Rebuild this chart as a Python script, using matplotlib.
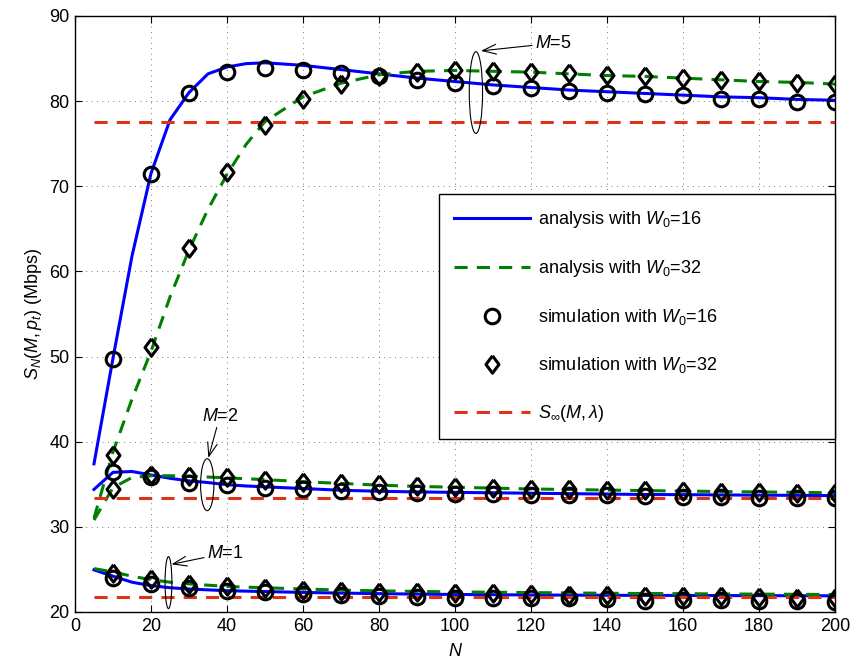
import matplotlib
matplotlib.use("Agg")
import matplotlib.pyplot as plt
from matplotlib.patches import Ellipse
from matplotlib.lines import Line2D

plt.rcParams['font.family'] = ['Liberation Sans', 'DejaVu Sans']
plt.rcParams['mathtext.fontset'] = 'custom'
plt.rcParams['mathtext.rm'] = 'Liberation Sans'
plt.rcParams['mathtext.it'] = 'Liberation Sans:italic'
plt.rcParams['mathtext.bf'] = 'Liberation Sans:bold'

FS = 13

# analysis curves (N step 5 up to 50, then step 10)
n_ana = [5, 10, 15, 20, 25, 30, 35, 40, 45, 50, 60, 70, 80, 90, 100,
         110, 120, 130, 140, 150, 160, 170, 180, 190, 200]
ana16_m5 = [37.4, 49.8, 61.8, 71.5, 77.8, 81.0, 83.2, 84.0, 84.4, 84.5, 84.2, 83.7, 83.2,
            82.7, 82.3, 81.9, 81.6, 81.3, 81.1, 80.9, 80.7, 80.5, 80.4, 80.2, 80.1]
ana32_m5 = [31.0, 38.8, 45.0, 50.6, 57.0, 62.5, 67.3, 71.4, 74.9, 77.6, 80.5, 82.1, 83.1,
            83.5, 83.6, 83.5, 83.4, 83.2, 83.0, 82.9, 82.7, 82.5, 82.3, 82.2, 82.0]
ana16_m2 = [34.4, 36.4, 36.5, 36.1, 35.7, 35.4, 35.2, 34.95, 34.8, 34.7, 34.5, 34.3, 34.18,
            34.1, 34.05, 34.0, 33.95, 33.9, 33.85, 33.8, 33.78, 33.75, 33.72, 33.7, 33.67]
ana32_m2 = [30.8, 34.6, 35.8, 36.0, 36.0, 35.95, 35.85, 35.75, 35.65, 35.55, 35.3, 35.1, 34.9,
            34.75, 34.65, 34.55, 34.45, 34.38, 34.32, 34.26, 34.2, 34.15, 34.1, 34.05, 34.0]
ana16_m1 = [24.95, 24.2, 23.5, 23.1, 22.85, 22.7, 22.6, 22.5, 22.45, 22.4, 22.3, 22.22, 22.16,
            22.1, 22.06, 22.03, 22.0, 21.98, 21.96, 21.95, 21.94, 21.93, 21.92, 21.91, 21.9]
ana32_m1 = [25.1, 24.7, 24.2, 23.8, 23.5, 23.3, 23.15, 23.0, 22.92, 22.85, 22.7, 22.57, 22.48,
            22.42, 22.36, 22.32, 22.28, 22.24, 22.2, 22.17, 22.15, 22.12, 22.1, 22.08, 22.05]

# simulation points
n_sim = [10, 20, 30, 40, 50, 60, 70, 80, 90, 100, 110, 120, 130, 140, 150, 160, 170, 180, 190, 200]
sim16_m5 = [49.7, 71.4, 80.9, 83.4, 83.9, 83.6, 83.3, 83.0, 82.5, 82.1,
            81.8, 81.5, 81.2, 80.9, 80.8, 80.7, 80.2, 80.2, 79.9, 79.9]
sim32_m5 = [38.4, 51.1, 62.8, 71.7, 77.2, 80.3, 82.0, 82.9, 83.4, 83.6,
            83.5, 83.4, 83.3, 83.1, 82.9, 82.7, 82.5, 82.4, 82.1, 82.0]
sim16_m2 = [36.4, 35.9, 35.2, 34.9, 34.6, 34.4, 34.2, 34.1, 34.0, 33.9,
            33.8, 33.7, 33.7, 33.7, 33.6, 33.5, 33.5, 33.4, 33.4, 33.4]
sim32_m2 = [34.4, 36.1, 36.0, 35.8, 35.5, 35.3, 35.2, 35.0, 34.8, 34.7,
            34.6, 34.5, 34.4, 34.3, 34.3, 34.2, 34.1, 34.1, 34.0, 34.0]
sim16_m1 = [24.0, 23.3, 22.8, 22.5, 22.3, 22.1, 22.0, 21.9, 21.8, 21.7,
            21.7, 21.6, 21.6, 21.5, 21.3, 21.4, 21.4, 21.3, 21.3, 21.2]
sim32_m1 = [24.6, 23.9, 23.3, 23.0, 22.8, 22.6, 22.5, 22.4, 22.3, 22.2,
            22.2, 22.1, 22.0, 22.0, 21.9, 21.9, 21.9, 21.8, 21.7, 21.7]

# asymptotic throughput for M = 5, 2, 1
s_inf = [77.55, 33.35, 21.8]
n_range = [5, 200]

BLUE = '#0000ff'
GREEN = '#008000'
RED = '#dd3318'
LW = 2.2
DASH = (4.3, 3.0)
diamond = [(0, 1), (0.75, 0), (0, -1), (-0.75, 0), (0, 1)]

fig = plt.figure(figsize=(8.54, 6.65), dpi=100)
ax = fig.add_axes([0.0878, 0.0797, 0.89, 0.8963])

for y in ana16_m5, ana16_m2, ana16_m1:
    ax.plot(n_ana, y, color=BLUE, lw=LW)
for y in ana32_m5, ana32_m2, ana32_m1:
    ax.plot(n_ana, y, color=GREEN, lw=LW, dashes=DASH)
for s in s_inf:
    ax.plot(n_range, [s, s], color=RED, lw=LW, dashes=DASH)

circ_kw = dict(ls='none', marker='o', ms=10.5, mfc='none', mec='k', mew=2.2)
dia_kw = dict(ls='none', marker=diamond, ms=12.5, mfc='none', mec='k', mew=2.2)
for y in sim16_m5, sim16_m2, sim16_m1:
    ax.plot(n_sim, y, **circ_kw)
for y in sim32_m5, sim32_m2, sim32_m1:
    ax.plot(n_sim, y, **dia_kw)

# grouping ellipses with labels
groups = [
    # center, width, height, label text pos, arrow tip
    ((105.5, 81.0), 3.5, 9.6, (121.0, 86.8), (106.8, 85.9), '$M$=5'),
    ((34.8, 34.95), 3.5, 6.1, (33.3, 43.0), (35.1, 38.1), '$M$=2'),
    ((24.6, 23.45), 1.8, 6.1, (34.7, 26.9), (25.4, 25.6), '$M$=1'),
]
for center, w, h, tpos, tip, label in groups:
    ax.add_patch(Ellipse(center, w, h, fill=False, ec='k', lw=0.8, zorder=5))
    ax.annotate(label, xy=tip, xytext=tpos, fontsize=FS, ha='left', va='center',
                arrowprops=dict(arrowstyle='->,head_length=0.7,head_width=0.25',
                                color='k', lw=0.8, mutation_scale=14,
                                shrinkA=0, shrinkB=0))

ax.set_xlim(0, 200)
ax.set_ylim(20, 90)
ax.set_xticks(range(0, 201, 20))
ax.set_yticks(range(20, 91, 10))
ax.tick_params(direction='in', length=5, width=0.8, labelsize=FS,
               top=True, right=True, pad=4)
ax.grid(True, color='0.3', lw=0.6, dashes=(1, 5.5))
for sp in ax.spines.values():
    sp.set_linewidth(1.0)

ax.set_xlabel('$N$', fontsize=FS, labelpad=6)
ax.set_ylabel('$S_N(M,p_t)$ (Mbps)', fontsize=FS, labelpad=4)

handles = [
    Line2D([], [], color=BLUE, lw=LW),
    Line2D([], [], color=GREEN, lw=LW, dashes=DASH),
    Line2D([], [], **circ_kw),
    Line2D([], [], **dia_kw),
    Line2D([], [], color=RED, lw=LW, dashes=DASH),
]
labels = [
    'analysis with $W_0$=16',
    'analysis with $W_0$=32',
    'simulation with $W_0$=16',
    'simulation with $W_0$=32',
    r'$S_\infty(M,\lambda)$',
]
leg = ax.legend(handles, labels, loc='upper left', mode='expand',
                bbox_to_anchor=(0.479, 0.284, 0.521, 0.417), fontsize=FS,
                handlelength=4.2, handletextpad=0.45, labelspacing=1.55,
                borderpad=0.82, borderaxespad=0.0, numpoints=1,
                fancybox=False, framealpha=1, edgecolor='k')
leg.get_frame().set_linewidth(1.0)

fig.savefig('out.png', dpi=100)
